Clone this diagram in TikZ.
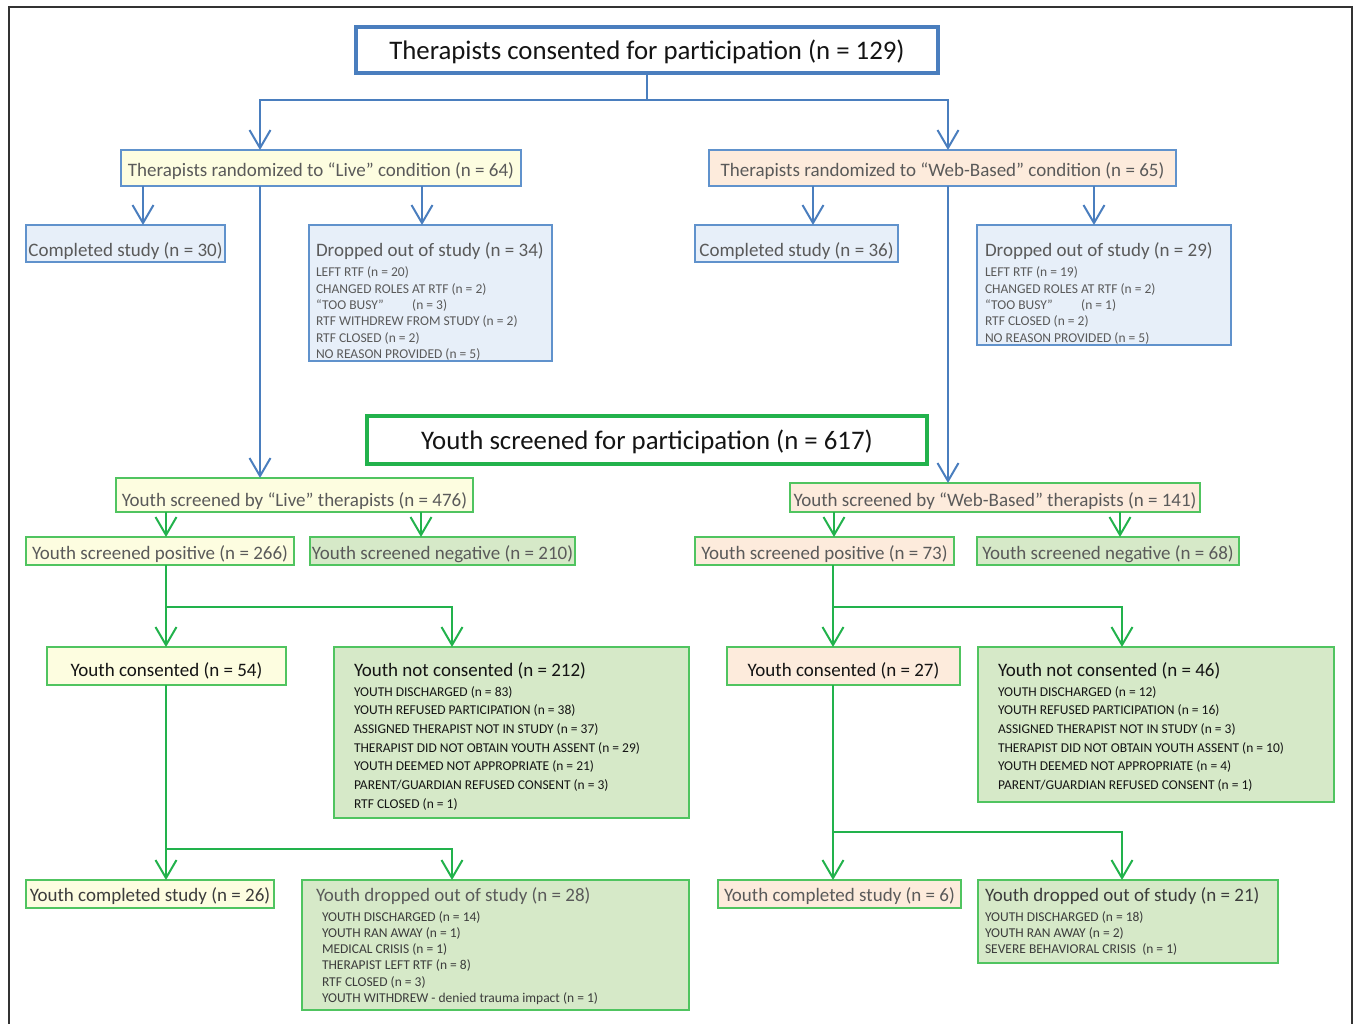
\documentclass[tikz,border=0pt]{standalone}
\usepackage{fontspec}
\setmainfont{Carlito}
\usetikzlibrary{arrows.meta, positioning, calc}

\definecolor{flowblue}{RGB}{74,126,190}
\definecolor{boxblue}{RGB}{96,146,204}
\definecolor{flowgreen}{RGB}{34,178,76}
\definecolor{edgegreen}{RGB}{80,196,96}
\definecolor{fillyellow}{RGB}{253,253,224}
\definecolor{fillpeach}{RGB}{253,235,220}
\definecolor{fillblue}{RGB}{231,239,249}
\definecolor{fillgreen}{RGB}{214,233,200}
\definecolor{txtgrey}{RGB}{90,90,90}
\definecolor{txtmid}{RGB}{60,60,60}
\definecolor{txtdark}{RGB}{20,20,20}

\newcommand{\titlefont}{\fontsize{26.8}{32}\selectfont}
\newcommand{\headfont}{\fontsize{19}{23}\selectfont}
\newcommand{\listfont}{\fontsize{13.5}{16.3}\selectfont}
\newcommand{\looselist}{\fontsize{13.5}{18.7}\selectfont}
% box text: height, width, first baseline, body
\newcommand{\reasons}[4]{\parbox[c][#1pt][t]{#2pt}{\raggedright\rule{0pt}{#3pt}#4}}

\begin{document}
\begin{tikzpicture}[x=1pt, y=-1pt,
  every node/.style={anchor=north west, inner sep=0pt, outer sep=0pt},
  titlebox/.style={draw, line width=4.5pt, fill=white, font=\titlefont, text=txtdark,
    text height=25pt, text depth=6.5pt},
  tbox/.style={draw=boxblue, line width=1.3pt, font=\headfont, text=txtgrey},
  ybox/.style={draw=edgegreen, line width=1.3pt, font=\headfont, text=txtgrey},
  textpos/.style={text height=#1, text depth=4.5pt},
  bline/.style={draw=flowblue, line width=2pt},
  gline/.style={draw=flowgreen, line width=2pt},
  barrow/.style={bline, -{Straight Barb[length=18pt, width=21pt]}},
  garrow/.style={gline, -{Straight Barb[length=18pt, width=21pt]}}]

  \useasboundingbox (0,0) rectangle (1355,1024);
  \draw[line width=1.5pt, black!80] (9,1024) -- (9,7) -- (1352,7) -- (1352,1024);

  % therapists
  \node[titlebox, draw=flowblue, minimum width=582, minimum height=46] (title) at (356,27)
    {Therapists consented for participation (n = 129)};
  \node[tbox, fill=fillyellow, textpos=22.5pt, minimum width=400, minimum height=36] (live) at (121,150)
    {Therapists randomized to “Live” condition (n = 64)};
  \node[tbox, fill=fillpeach, textpos=22.5pt, minimum width=467, minimum height=36] (web) at (709,150)
    {Therapists randomized to “Web-Based” condition (n = 65)};

  \node[tbox, fill=fillblue, textpos=30.5pt, minimum width=199, minimum height=37] (lcomp) at (26,225)
    {Completed study (n = 30)};
  \node[tbox, fill=fillblue, minimum width=243] (ldrop) at (309,225)
    {\reasons{136}{229}{32}{{\headfont Dropped out of study (n = 34)}\\[3.7pt]\listfont
      LEFT RTF (n = 20)\\
      CHANGED ROLES AT RTF (n = 2)\\
      “TOO BUSY”\hspace{2.1em}(n = 3)\\
      RTF WITHDREW FROM STUDY (n = 2)\\
      RTF CLOSED (n = 2)\\
      NO REASON PROVIDED (n = 5)}};
  \node[tbox, fill=fillblue, textpos=30.5pt, minimum width=203, minimum height=37] (wcomp) at (695,225)
    {Completed study (n = 36)};
  \node[tbox, fill=fillblue, minimum width=254] (wdrop) at (977,225)
    {\reasons{120}{238}{32}{{\headfont Dropped out of study (n = 29)}\\[3.7pt]\listfont
      LEFT RTF (n = 19)\\
      CHANGED ROLES AT RTF (n = 2)\\
      “TOO BUSY”\hspace{2.1em}(n = 1)\\
      RTF CLOSED (n = 2)\\
      NO REASON PROVIDED (n = 5)}};

  % youth
  \node[titlebox, draw=flowgreen, minimum width=560, minimum height=48] (ytitle) at (367,416)
    {Youth screened for participation (n = 617)};
  \node[ybox, fill=fillyellow, textpos=26.5pt, minimum width=357, minimum height=34] (ylive) at (116,478)
    {Youth screened by “Live” therapists (n = 476)};
  \node[ybox, fill=fillpeach, textpos=22.5pt, minimum width=410, minimum height=29] (yweb) at (790,483)
    {Youth screened by “Web-Based” therapists (n = 141)};

  \node[ybox, fill=fillyellow, textpos=20.5pt, minimum width=268, minimum height=28] (lpos) at (26,537)
    {Youth screened positive (n = 266)};
  \node[ybox, fill=fillgreen, textpos=20.5pt, minimum width=265, minimum height=28] (lneg) at (310,537)
    {Youth screened negative (n = 210)};
  \node[ybox, fill=fillpeach, textpos=20.5pt, minimum width=259, minimum height=28] (wpos) at (695,537)
    {Youth screened positive (n = 73)};
  \node[ybox, fill=fillgreen, textpos=20.5pt, minimum width=262, minimum height=28] (wneg) at (977,537)
    {Youth screened negative (n = 68)};

  \node[ybox, fill=fillyellow, text=txtdark, textpos=24.5pt, minimum width=239, minimum height=38] (lcons) at (47,647)
    {Youth consented (n = 54)};
  \node[ybox, fill=fillgreen, text=txtdark, minimum width=355] (lnot) at (334,647)
    {\reasons{171}{315}{29}{{\headfont Youth not consented (n = 212)}\\[1.3pt]\looselist
      YOUTH DISCHARGED (n = 83)\\
      YOUTH REFUSED PARTICIPATION (n = 38)\\
      ASSIGNED THERAPIST NOT IN STUDY (n = 37)\\
      THERAPIST DID NOT OBTAIN YOUTH ASSENT (n = 29)\\
      YOUTH DEEMED NOT APPROPRIATE (n = 21)\\
      PARENT/GUARDIAN REFUSED CONSENT (n = 3)\\
      RTF CLOSED (n = 1)}};
  \node[ybox, fill=fillpeach, text=txtdark, textpos=24.5pt, minimum width=233, minimum height=38] (wcons) at (727,647)
    {Youth consented (n = 27)};
  \node[ybox, fill=fillgreen, text=txtdark, minimum width=356] (wnot) at (978,647)
    {\reasons{155}{316}{29}{{\headfont Youth not consented (n = 46)}\\[1.3pt]\looselist
      YOUTH DISCHARGED (n = 12)\\
      YOUTH REFUSED PARTICIPATION (n = 16)\\
      ASSIGNED THERAPIST NOT IN STUDY (n = 3)\\
      THERAPIST DID NOT OBTAIN YOUTH ASSENT (n = 10)\\
      YOUTH DEEMED NOT APPROPRIATE (n = 4)\\
      PARENT/GUARDIAN REFUSED CONSENT (n = 1)}};

  \node[ybox, fill=fillyellow, text=txtmid, textpos=18.5pt, minimum width=248, minimum height=28] (lycomp) at (26,880)
    {Youth completed study (n = 26)};
  \node[ybox, fill=fillgreen, text=txtmid, minimum width=387] (lydrop) at (302,880)
    {\reasons{130}{359}{21}{{\color{txtgrey}\headfont Youth dropped out of study (n = 28)}\\[3.7pt]\listfont
      \hspace*{6pt}YOUTH DISCHARGED (n = 14)\\
      \hspace*{6pt}YOUTH RAN AWAY (n = 1)\\
      \hspace*{6pt}MEDICAL CRISIS (n = 1)\\
      \hspace*{6pt}THERAPIST LEFT RTF (n = 8)\\
      \hspace*{6pt}RTF CLOSED (n = 3)\\
      \hspace*{6pt}YOUTH WITHDREW - denied trauma impact (n = 1)}};
  \node[ybox, fill=fillpeach, textpos=18.5pt, minimum width=243, minimum height=28] (wycomp) at (718,880)
    {Youth completed study (n = 6)};
  \node[ybox, fill=fillgreen, text=txtmid, minimum width=300] (wydrop) at (978,880)
    {\reasons{83}{286}{21}{{\headfont Youth dropped out of study (n = 21)}\\[3.7pt]\listfont
      YOUTH DISCHARGED (n = 18)\\
      YOUTH RAN AWAY (n = 2)\\
      SEVERE BEHAVIORAL CRISIS\ \ (n = 1)}};

  % connector columns
  \coordinate (xlive) at (260,0);
  \coordinate (xweb) at (948,0);
  \coordinate (xlc) at (143,0);
  \coordinate (xld) at (422,0);
  \coordinate (xwc) at (813,0);
  \coordinate (xwd) at (1094,0);
  \coordinate (xyl) at (166,0);
  \coordinate (xyln) at (421,0);
  \coordinate (xlb) at (452,0);
  \coordinate (xyw) at (834,0);
  \coordinate (xywn) at (1120,0);
  \coordinate (xwp) at (833,0);
  \coordinate (xwb) at (1122,0);

  % blue arrows
  \draw[bline] (title.south) -- ++(0,27) coordinate (tsplit);
  \draw[barrow] (tsplit) -| (live.north -| xlive);
  \draw[barrow] (tsplit) -| (web.north -| xweb);
  \draw[barrow] (live.south -| xlc) -- (lcomp.north -| xlc);
  \draw[barrow] (live.south -| xld) -- (ldrop.north -| xld);
  \draw[barrow] (live.south -| xlive) -- (ylive.north -| xlive);
  \draw[barrow] (web.south -| xwc) -- (wcomp.north -| xwc);
  \draw[barrow] (web.south -| xwd) -- (wdrop.north -| xwd);
  \draw[barrow] (web.south -| xweb) -- (yweb.north -| xweb);

  % green arrows
  \draw[garrow] (ylive.south -| xyl) -- (lpos.north -| xyl);
  \draw[garrow] (ylive.south -| xyln) -- (lneg.north -| xyln);
  \draw[garrow] (yweb.south -| xyw) -- (wpos.north -| xyw);
  \draw[garrow] (yweb.south -| xywn) -- (wneg.north -| xywn);
  \draw[garrow] (lpos.south -| xyl) -- (lcons.north -| xyl);
  \draw[garrow] (lpos.south -| xyl) -- ++(0,42) -| (lnot.north -| xlb);
  \draw[garrow] (lcons.south -| xyl) -- (lycomp.north -| xyl);
  \draw[garrow] (lcons.south -| xyl) -- ++(0,164) -| (lydrop.north -| xlb);
  \draw[garrow] (wpos.south -| xwp) -- (wcons.north -| xwp);
  \draw[garrow] (wpos.south -| xwp) -- ++(0,42) -| (wnot.north -| xwb);
  \draw[garrow] (wcons.south -| xwp) -- (wycomp.north -| xwp);
  \draw[garrow] (wcons.south -| xwp) -- ++(0,147) -| (wydrop.north -| xwb);
\end{tikzpicture}
\end{document}
